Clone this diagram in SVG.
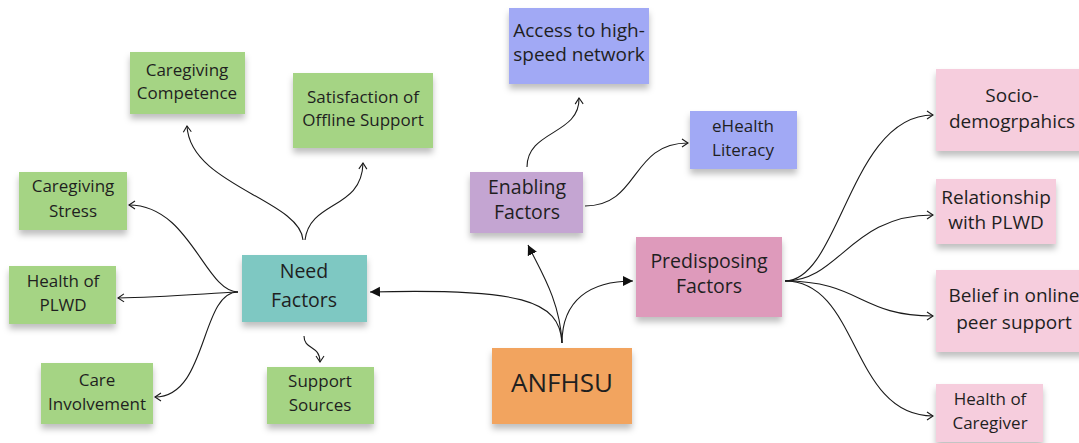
<svg xmlns="http://www.w3.org/2000/svg" width="1079" height="443" viewBox="0 0 1079 443">
<style>
text{font-family:"Open Sans","Noto Sans",sans-serif;fill:#1f1f1f;text-anchor:middle}
.s{font-size:17px}.p{font-size:19px}.m{font-size:19.5px}.l{font-size:26px}
.green{fill:#a5d484}.blue{fill:#a1a9f5}.lpink{fill:#f6cddd}
.c{fill:none;stroke:#1a1a1a;stroke-width:1.1}
</style>
<defs>
<filter id="sh" x="-10%" y="-10%" width="120%" height="140%">
<feDropShadow dx="0" dy="5" stdDeviation="3" flood-color="#000" flood-opacity="0.25"/>
</filter>
<marker id="o" markerWidth="10" markerHeight="10" refX="7" refY="5" orient="auto" markerUnits="userSpaceOnUse">
<path d="M1,1 L7,5 L1,9" fill="none" stroke="#1a1a1a" stroke-width="1.1"/>
</marker>
<marker id="f" markerWidth="12" markerHeight="12" refX="10" refY="6" orient="auto" markerUnits="userSpaceOnUse">
<path d="M0,1 L10,6 L0,11 Z" fill="#111"/>
</marker>
</defs>
<rect width="1079" height="443" fill="#fff"/>
<g id="connectors">
<path class="c" d="M238,292 C205,292 190,205 129,205" marker-end="url(#o)"/>
<path class="c" d="M238,292 C200,294 160,297 118,298" marker-end="url(#o)"/>
<path class="c" d="M238,292 C200,292 208,397 155,397" marker-end="url(#o)"/>
<path class="c" d="M303,240 C300,200 190,185 187,126" marker-end="url(#o)"/>
<path class="c" d="M305,240 C310,200 362,210 363,163" marker-end="url(#o)"/>
<path class="c" d="M304,336 C304,350 320,345 320,362" marker-end="url(#o)"/>
<path class="c" d="M562,343 C560,300 520,288 370,292" marker-end="url(#f)"/>
<path class="c" d="M562,343 C560,300 540,270 528,245" marker-end="url(#f)"/>
<path class="c" d="M562,343 C562,300 590,281 633,281" marker-end="url(#f)"/>
<path class="c" d="M527,167 C527,130 580,135 579,98" marker-end="url(#o)"/>
<path class="c" d="M585,206 C640,206 630,143 688,143" marker-end="url(#o)"/>
<path class="c" d="M785,281 C840,281 850,115 933,115" marker-end="url(#o)"/>
<path class="c" d="M785,281 C840,281 850,215 933,215" marker-end="url(#o)"/>
<path class="c" d="M785,281 C860,281 860,316 933,316" marker-end="url(#o)"/>
<path class="c" d="M785,281 C860,281 850,416 933,416" marker-end="url(#o)"/>
</g>
<g id="caregiving-competence"><rect class="green" x="130" y="52" width="115" height="62" filter="url(#sh)"/><text class="s" x="187" y="76">Caregiving</text><text class="s" x="187" y="99">Competence</text></g>
<g id="satisfaction"><rect class="green" x="293" y="73" width="140" height="75" filter="url(#sh)"/><text class="s" x="363" y="103">Satisfaction of</text><text class="s" x="363" y="126">Offline Support</text></g>
<g id="caregiving-stress"><rect class="green" x="19" y="172" width="108" height="58" filter="url(#sh)"/><text class="s" x="73" y="192">Caregiving</text><text class="s" x="73" y="217">Stress</text></g>
<g id="health-plwd"><rect class="green" x="9" y="266" width="107" height="58" filter="url(#sh)"/><text class="s" x="63" y="287">Health of</text><text class="s" x="63" y="311">PLWD</text></g>
<g id="care-involvement"><rect class="green" x="41" y="363" width="112" height="61" filter="url(#sh)"/><text class="s" x="97" y="386">Care</text><text class="s" x="97" y="410">Involvement</text></g>
<g id="need-factors"><rect x="242" y="255" width="125" height="67" fill="#7ec8c2" filter="url(#sh)"/><text class="m" x="304" y="278">Need</text><text class="m" x="304" y="307">Factors</text></g>
<g id="support-sources"><rect class="green" x="267" y="367" width="107" height="57" filter="url(#sh)"/><text class="s" x="320" y="387">Support</text><text class="s" x="320" y="411">Sources</text></g>
<g id="access"><rect class="blue" x="509" y="8" width="140" height="76" filter="url(#sh)"/><text class="p" x="579" y="37">Access to high-</text><text class="p" x="579" y="61">speed network</text></g>
<g id="ehealth"><rect class="blue" x="690" y="111" width="107" height="58" filter="url(#sh)"/><text class="s" x="743" y="132">eHealth</text><text class="s" x="743" y="156">Literacy</text></g>
<g id="enabling"><rect x="470" y="172" width="113" height="61" fill="#c4a5d2" filter="url(#sh)"/><text class="m" x="527" y="194">Enabling</text><text class="m" x="527" y="219">Factors</text></g>
<g id="predisposing"><rect x="636" y="237" width="146" height="80" fill="#de9abb" filter="url(#sh)"/><text class="m" x="709" y="268">Predisposing</text><text class="m" x="709" y="293">Factors</text></g>
<g id="anfhsu"><rect x="492" y="348" width="140" height="76" fill="#f2a45e" filter="url(#sh)"/><text class="l" x="562" y="392">ANFHSU</text></g>
<g id="socio"><rect class="lpink" x="936" y="69" width="150" height="82" filter="url(#sh)"/><text class="p" x="1012" y="102">Socio-</text><text class="p" x="1012" y="128">demogrpahics</text></g>
<g id="relationship"><rect class="lpink" x="936" y="179" width="120" height="65" filter="url(#sh)"/><text class="p" x="996" y="204">Relationship</text><text class="p" x="996" y="229">with PLWD</text></g>
<g id="belief"><rect class="lpink" x="936" y="270" width="150" height="82" filter="url(#sh)"/><text class="p" x="1014" y="302">Belief in online</text><text class="p" x="1014" y="329">peer support</text></g>
<g id="health-caregiver"><rect class="lpink" x="936" y="384" width="107" height="58" filter="url(#sh)"/><text class="s" x="990" y="405">Health of</text><text class="s" x="990" y="429">Caregiver</text></g>
</svg>
